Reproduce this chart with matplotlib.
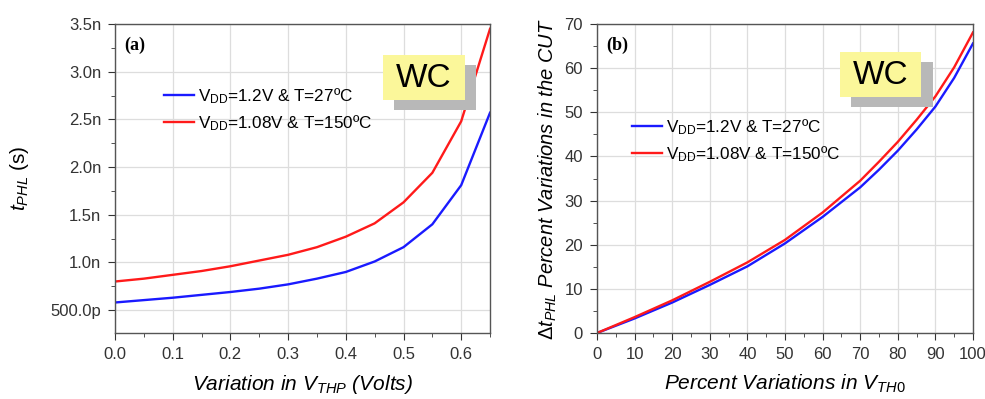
import matplotlib
matplotlib.use('Agg')
import matplotlib.pyplot as plt
from matplotlib.patches import Rectangle
from matplotlib.ticker import MultipleLocator

plt.rcParams['font.family'] = ['Liberation Sans', 'DejaVu Sans']
plt.rcParams['mathtext.fontset'] = 'custom'
plt.rcParams['mathtext.rm'] = 'Liberation Sans'
plt.rcParams['mathtext.it'] = 'Liberation Sans:italic'

# (a) delay vs. VTHP variation, in ns
vthp = [0.0, 0.05, 0.1, 0.15, 0.2, 0.25, 0.3, 0.35, 0.4, 0.45, 0.5, 0.55, 0.6, 0.65]
tphl_nom = [0.58, 0.605, 0.63, 0.66, 0.69, 0.725, 0.77, 0.83, 0.90, 1.01, 1.16, 1.40, 1.81, 2.57]
tphl_wc = [0.80, 0.83, 0.87, 0.91, 0.96, 1.02, 1.08, 1.16, 1.27, 1.41, 1.63, 1.94, 2.48, 3.45]
yticks_a = [0.5, 1.0, 1.5, 2.0, 2.5, 3.0, 3.5]
yticklabels_a = ['500.0p', '1.0n', '1.5n', '2.0n', '2.5n', '3.0n', '3.5n']

# (b) percent delay change vs. percent VTH0 variation
pct = [0, 10, 20, 30, 40, 50, 60, 70, 75, 80, 85, 90, 95, 100]
dt_nom = [0, 3.3, 6.9, 10.9, 15.1, 20.3, 26.3, 33.0, 37.0, 41.3, 46.1, 51.3, 57.8, 65.6]
dt_wc = [0, 3.6, 7.4, 11.6, 16.0, 21.1, 27.3, 34.5, 38.8, 43.3, 48.3, 53.6, 60.2, 68.1]

lab_nom = 'V$_{\\mathrm{DD}}$=1.2V & T=27ºC'
lab_wc = 'V$_{\\mathrm{DD}}$=1.08V & T=150ºC'

fig = plt.figure(figsize=(9.85, 3.99), dpi=100)
ax1 = fig.add_axes([0.1168, 0.1654, 0.3807, 0.7744])
ax2 = fig.add_axes([0.6061, 0.1654, 0.3817, 0.7744])


def style(ax):
    ax.grid(True, color='#dddddd', linewidth=0.9)
    ax.set_axisbelow(True)
    for s in ax.spines.values():
        s.set_color('#555555')
        s.set_linewidth(1.0)
    ax.tick_params(which='both', direction='out', colors='#333333', labelsize=12)
    ax.tick_params(which='major', length=5, pad=5)
    ax.tick_params(which='minor', length=3)


def wc_box(ax, x0, y0):
    # shadow then yellow box, in axes fraction
    ax.add_patch(Rectangle((x0 + 0.03, y0 - 0.032), 0.218, 0.146, transform=ax.transAxes,
                           facecolor='#b8b8b8', edgecolor='none', zorder=5))
    ax.add_patch(Rectangle((x0, y0), 0.218, 0.146, transform=ax.transAxes,
                           facecolor='#fbf79a', edgecolor='none', zorder=6))
    ax.text(x0 + 0.109, y0 + 0.07, 'WC', transform=ax.transAxes, fontsize=24,
            ha='center', va='center', zorder=7)


leg_kw = dict(frameon=False, fontsize=12.3, handlelength=1.75, handletextpad=0.25,
              labelspacing=0.4, borderaxespad=0)

# panel (a)
ax1.plot(vthp, tphl_nom, color='#1a1aff', lw=1.7, label=lab_nom)
ax1.plot(vthp, tphl_wc, color='#ff1a1a', lw=1.7, label=lab_wc)
ax1.set_xlim(0, 0.65)
ax1.set_ylim(0.26, 3.5)
ax1.set_xticks([0.0, 0.1, 0.2, 0.3, 0.4, 0.5, 0.6])
ax1.xaxis.set_minor_locator(MultipleLocator(0.05))
ax1.set_yticks(yticks_a)
ax1.set_yticklabels(yticklabels_a)
ax1.yaxis.set_minor_locator(MultipleLocator(0.25))
style(ax1)
ax1.set_xlabel('Variation in V$_{THP}$ (Volts)', fontsize=15, style='italic', labelpad=8)
ax1.set_ylabel('$t_{PHL}$ (s)', fontsize=15, labelpad=14)
ax1.text(0.025, 0.93, '(a)', transform=ax1.transAxes, fontsize=13, fontweight='bold',
         family='Liberation Serif', va='center')
ax1.legend(loc='upper left', bbox_to_anchor=(0.112, 0.82), **leg_kw)
wc_box(ax1, 0.715, 0.754)

# panel (b)
ax2.plot(pct, dt_nom, color='#1a1aff', lw=1.7, label=lab_nom)
ax2.plot(pct, dt_wc, color='#ff1a1a', lw=1.7, label=lab_wc)
ax2.set_xlim(0, 100)
ax2.set_ylim(0, 70)
ax2.set_xticks(range(0, 101, 10))
ax2.xaxis.set_minor_locator(MultipleLocator(5))
ax2.set_yticks(range(0, 71, 10))
ax2.yaxis.set_minor_locator(MultipleLocator(5))
style(ax2)
ax2.set_xlabel('Percent Variations in V$_{TH0}$', fontsize=15, style='italic', labelpad=8)
ax2.set_ylabel('$\\Delta t_{PHL}$ Percent Variations in the CUT', fontsize=14.5, style='italic')
ax2.text(0.025, 0.93, '(b)', transform=ax2.transAxes, fontsize=13, fontweight='bold',
         family='Liberation Serif', va='center')
ax2.legend(loc='upper left', bbox_to_anchor=(0.075, 0.72), **leg_kw)
wc_box(ax2, 0.645, 0.764)

fig.savefig('out.png', dpi=100)
